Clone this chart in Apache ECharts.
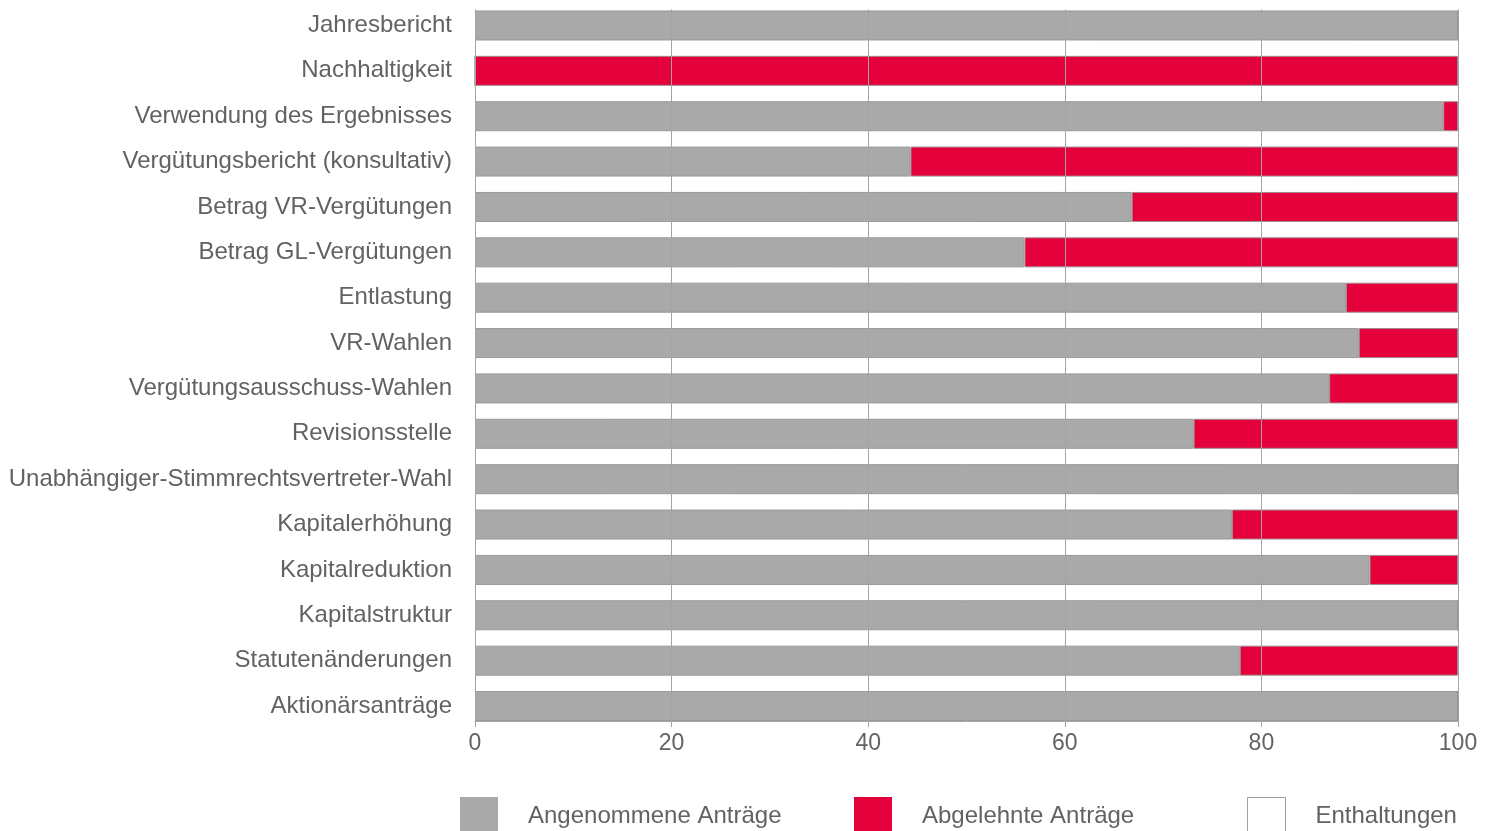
<!DOCTYPE html>
<html>
<head>
<meta charset="utf-8">
<script src="https://cdn.jsdelivr.net/npm/echarts@6/dist/echarts.min.js"></script>
<style>
html,body{margin:0;padding:0;background:#fff;}
#chart{width:1493px;height:831px;}
</style>
</head>
<body>
<div id="chart"></div>
<script>
var categories = [
  'Jahresbericht',
  'Nachhaltigkeit',
  'Verwendung des Ergebnisses',
  'Vergütungsbericht (konsultativ)',
  'Betrag VR-Vergütungen',
  'Betrag GL-Vergütungen',
  'Entlastung',
  'VR-Wahlen',
  'Vergütungsausschuss-Wahlen',
  'Revisionsstelle',
  'Unabhängiger-Stimmrechtsvertreter-Wahl',
  'Kapitalerhöhung',
  'Kapitalreduktion',
  'Kapitalstruktur',
  'Statutenänderungen',
  'Aktionärsanträge'
];
var angenommen = [100, 0, 98.5, 44.3, 66.8, 55.9, 88.6, 89.9, 86.9, 73.1, 100, 77.0, 91.0, 100, 77.8, 100];
var abgelehnt  = [0, 100, 1.5, 55.7, 33.2, 44.1, 11.4, 10.1, 13.1, 26.9, 0, 23.0, 9.0, 0, 22.2, 0];
var enthaltungen = [0, 0, 0, 0, 0, 0, 0, 0, 0, 0, 0, 0, 0, 0, 0, 0];
var xTicks = [0, 20, 40, 60, 80, 100];

var textColor = '#626262';
var lineColor = '#a4a4a4';
var fontFamily = 'Liberation Sans, Arial, sans-serif';

var chart = echarts.init(document.getElementById('chart'), null, {renderer: 'canvas'});

function legendBlock(name, left, style) {
  return {
    left: left, top: 797,
    padding: 0,
    itemWidth: 38, itemHeight: 38,
    icon: 'rect',
    selectedMode: false,
    data: [{name: name, itemStyle: style}],
    textStyle: {fontSize: 24, color: textColor, fontFamily: fontFamily, padding: [0, 0, 0, 25]}
  };
}

chart.setOption({
  animation: false,
  backgroundColor: '#fff',
  textStyle: {fontFamily: fontFamily},
  grid: [
    {left: 475, right: 35, top: 2.8, bottom: 102.3, containLabel: false},
    {left: 475, right: 35, top: 9.5, bottom: 110, containLabel: false}
  ],
  legend: [
    legendBlock('Angenommene Anträge', 460, {color: '#a9a9a9', borderWidth: 0}),
    legendBlock('Abgelehnte Anträge', 854, {color: '#e4003a', borderWidth: 0}),
    legendBlock('Enthaltungen', 1247, {color: '#ffffff', borderColor: '#a0a0a0', borderWidth: 1})
  ],
  xAxis: [
    {gridIndex: 0, type: 'value', min: 0, max: 100, show: false},
    {
      gridIndex: 1, type: 'value', min: xTicks[0], max: xTicks[xTicks.length - 1], interval: 20,
      z: 10,
      axisLine: {show: true, lineStyle: {color: lineColor, width: 1}},
      axisTick: {show: true, length: 6, lineStyle: {color: lineColor}},
      axisLabel: {fontSize: 23, color: textColor, margin: 11, fontFamily: fontFamily},
      splitLine: {show: true, lineStyle: {color: lineColor, width: 1}}
    }
  ],
  yAxis: [
    {
      gridIndex: 0, type: 'category', data: categories, inverse: true,
      axisLine: {show: false}, axisTick: {show: false},
      splitLine: {show: false},
      axisLabel: {fontSize: 24, color: textColor, margin: 23, fontFamily: fontFamily}
    },
    {gridIndex: 1, type: 'value', show: false}
  ],
  series: [
    {
      name: 'Angenommene Anträge', type: 'bar', stack: 'total',
      xAxisIndex: 0, yAxisIndex: 0, barWidth: 30,
      data: angenommen,
      itemStyle: {color: '#a9a9a9', borderColor: '#999999', borderWidth: 1}
    },
    {
      name: 'Abgelehnte Anträge', type: 'bar', stack: 'total',
      xAxisIndex: 0, yAxisIndex: 0, barWidth: 30,
      data: abgelehnt,
      itemStyle: {color: '#e4003a', borderColor: '#a08a8e', borderWidth: 1}
    },
    {
      name: 'Enthaltungen', type: 'bar', stack: 'total',
      xAxisIndex: 0, yAxisIndex: 0, barWidth: 30,
      data: enthaltungen,
      itemStyle: {color: '#ffffff', borderWidth: 0}
    }
  ]
});
</script>
</body>
</html>
